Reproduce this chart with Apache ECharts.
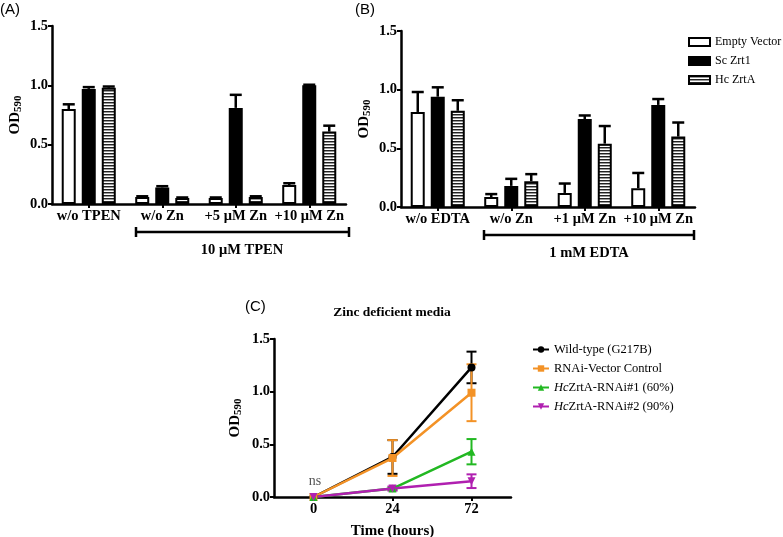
<!DOCTYPE html>
<html><head><meta charset="utf-8">
<script src="https://cdn.jsdelivr.net/npm/echarts@6/dist/echarts.min.js"></script>
<style>html,body{margin:0;padding:0;background:#fff}#c{width:783px;height:537px}</style>
</head><body><div id="c"></div>
<script>
// ---- Data ----
const catsA = ['w/o TPEN', 'w/o Zn', '+5 μM Zn', '+10 μM Zn'];
const evA = [0.80, 0.06, 0.05, 0.16];
const evAErr = [0.04, 0.005, 0.005, 0.015];
const scA = [0.97, 0.14, 0.81, 1.00];
const scAErr = [0.015, 0.01, 0.11, 0.005];
const hcA = [0.98, 0.05, 0.06, 0.61];
const hcAErr = [0.01, 0.005, 0.005, 0.05];

const catsB = ['w/o EDTA', 'w/o Zn', '+1 μM Zn', '+10 μM Zn'];
const evB = [0.81, 0.085, 0.12, 0.16];
const evBErr = [0.17, 0.025, 0.08, 0.13];
const scB = [0.94, 0.18, 0.75, 0.87];
const scBErr = [0.08, 0.06, 0.03, 0.05];
const hcB = [0.82, 0.22, 0.54, 0.60];
const hcBErr = [0.09, 0.06, 0.15, 0.12];

const timeCats = ['0', '24', '72'];
const wt = [0.0, 0.38, 1.23];
const wtErr = [0, 0.16, 0.15];
const vec = [0.0, 0.37, 0.99];
const vecErr = [0, 0.17, 0.27];
const ri1 = [0.0, 0.08, 0.43];
const ri1Err = [0, 0.01, 0.12];
const ri2 = [0.0, 0.08, 0.15];
const ri2Err = [0, 0.02, 0.065];

// ---- Styles ----
const SERIF = '"Liberation Serif","Times New Roman",serif';
const stripe = document.createElement('canvas');
stripe.width = 4; stripe.height = 3;
(function(){const c = stripe.getContext('2d');
  c.fillStyle = '#fff'; c.fillRect(0,0,4,3);
  c.fillStyle = '#222'; c.fillRect(0,0,4,1);
  c.fillStyle = '#999'; c.fillRect(0,1,4,1);})();
const hatch = {image: stripe, repeat: 'repeat'};

const chart = echarts.init(document.getElementById('c'));

function yAxisCfg(grid){
  return {
    type: 'value', gridIndex: grid, min: 0, max: 1.5, interval: 0.5,
    splitLine: {show: false},
    axisLine: {show: true, lineStyle: {color: '#000', width: 2.5}},
    axisTick: {show: true, length: 4, lineStyle: {color: '#000', width: 2}},
    axisLabel: {formatter: v => v.toFixed(1), color: '#000', fontFamily: SERIF, fontWeight: 'bold', fontSize: 14.5, margin: 4},
    name: '{a|OD}{b|590}', nameLocation: 'middle', nameRotate: 90, nameGap: 28,
    nameTextStyle: {rich: {
      a: {fontFamily: SERIF, fontWeight: 'bold', fontSize: 15, color: '#000'},
      b: {fontFamily: SERIF, fontWeight: 'bold', fontSize: 11, color: '#000', verticalAlign: 'bottom', padding: [6,0,0,0]}
    }}
  };
}
function xAxisCfg(grid, cats, extra){
  return Object.assign({
    type: 'category', gridIndex: grid, data: cats,
    axisLine: {show: true, lineStyle: {color: '#000', width: 2.5}},
    axisTick: {show: true, alignWithLabel: true, length: 4, lineStyle: {color: '#000', width: 2}},
    axisLabel: {interval: 0, color: '#000', fontFamily: SERIF, fontWeight: 'bold', fontSize: 14.5, margin: 5}
  }, extra || {});
}

function barErr(grid, vals, errs, off){
  return {
    type: 'custom', xAxisIndex: grid, yAxisIndex: grid, z: 5,
    data: vals.map((v, i) => [i, v, errs[i]]),
    encode: {x: 0, y: 1},
    renderItem: function(params, api){
      const i = api.value(0), v = api.value(1), e = api.value(2);
      const p0 = api.coord([i, v]), p1 = api.coord([i, v + e]);
      const x = p0[0] + off;
      const st = {stroke: '#000', lineWidth: 2.5};
      return {type: 'group', children: [
        {type: 'line', shape: {x1: x, y1: p0[1], x2: x, y2: p1[1]}, style: st},
        {type: 'line', shape: {x1: x - 6, y1: p1[1], x2: x + 6, y2: p1[1]}, style: st}
      ]};
    }
  };
}
function bar(grid, name, vals, color){
  return {
    type: 'bar', name: name, xAxisIndex: grid, yAxisIndex: grid,
    data: vals, barWidth: 14, barGap: '43%',
    itemStyle: {color: color, borderColor: '#000', borderWidth: 2}
  };
}
function lineErr(vals, errs, color){
  return {
    type: 'custom', xAxisIndex: 2, yAxisIndex: 2, z: 3,
    data: vals.map((v, i) => [i, v, errs[i]]),
    encode: {x: 0, y: 1},
    renderItem: function(params, api){
      const i = api.value(0), v = api.value(1), e = api.value(2);
      if (!e) return null;
      const pt = api.coord([i, v + e]), pb = api.coord([i, v - e]);
      const x = pt[0];
      const st = {stroke: color, lineWidth: 2};
      return {type: 'group', children: [
        {type: 'line', shape: {x1: x, y1: pt[1], x2: x, y2: pb[1]}, style: st},
        {type: 'line', shape: {x1: x - 5, y1: pt[1], x2: x + 5, y2: pt[1]}, style: st},
        {type: 'line', shape: {x1: x - 5, y1: pb[1], x2: x + 5, y2: pb[1]}, style: st}
      ]};
    }
  };
}
function line(name, vals, color, symbol, rot){
  return {
    type: 'line', name: name, xAxisIndex: 2, yAxisIndex: 2, data: vals,
    symbol: symbol, symbolSize: 8, symbolRotate: rot || 0, z: 4,
    lineStyle: {color: color, width: 2.5}, itemStyle: {color: color}
  };
}

const C_BLACK = '#000', C_ORANGE = '#F39226', C_GREEN = '#22B822', C_PURPLE = '#B020B0';

chart.setOption({
  animation: false,
  grid: [
    {left: 52, top: 26, width: 294, height: 178, outerBoundsMode: 'none'},
    {left: 401, top: 31, width: 294, height: 176, outerBoundsMode: 'none'},
    {left: 274, top: 339, width: 237, height: 158, outerBoundsMode: 'none'}
  ],
  xAxis: [
    xAxisCfg(0, catsA),
    xAxisCfg(1, catsB),
    xAxisCfg(2, timeCats, {name: 'Time (hours)', nameLocation: 'middle', nameGap: 27,
      nameTextStyle: {fontFamily: SERIF, fontWeight: 'bold', fontSize: 15, color: '#000'}})
  ],
  yAxis: [yAxisCfg(0), yAxisCfg(1), Object.assign(yAxisCfg(2), {nameGap: 30})],
  legend: [
    {data: ['Empty Vector', 'Sc Zrt1', 'Hc ZrtA'], orient: 'vertical', left: 683, top: 31,
     icon: 'rect', itemWidth: 21, itemHeight: 8, itemGap: 7, selectedMode: false,
     textStyle: {fontFamily: SERIF, fontSize: 12, color: '#000'}},
    {data: ['Wild-type (G217B)', 'RNAi-Vector Control', 'HcZrtA-RNAi#1 (60%)', 'HcZrtA-RNAi#2 (90%)'],
     orient: 'vertical', left: 527, top: 338, itemWidth: 16, itemHeight: 8, itemGap: 6, selectedMode: false,
     formatter: n => n.startsWith('Hc') ? '{i|Hc}' + n.slice(2) : n,
     textStyle: {fontFamily: SERIF, fontSize: 12.5, color: '#000',
       rich: {i: {fontFamily: SERIF, fontSize: 12.5, fontStyle: 'italic', color: '#000'}}}}
  ],
  series: [
    bar(0, 'Empty Vector', evA, '#fff'),
    bar(0, 'Sc Zrt1', scA, '#000'),
    bar(0, 'Hc ZrtA', hcA, hatch),
    barErr(0, evA, evAErr, -20), barErr(0, scA, scAErr, 0), barErr(0, hcA, hcAErr, 20),
    bar(1, 'Empty Vector', evB, '#fff'),
    bar(1, 'Sc Zrt1', scB, '#000'),
    bar(1, 'Hc ZrtA', hcB, hatch),
    barErr(1, evB, evBErr, -20), barErr(1, scB, scBErr, 0), barErr(1, hcB, hcBErr, 20),
    lineErr(wt, wtErr, C_BLACK),
    lineErr(vec, vecErr, C_ORANGE),
    lineErr(ri1, ri1Err, C_GREEN),
    lineErr(ri2, ri2Err, C_PURPLE),
    line('Wild-type (G217B)', wt, C_BLACK, 'circle'),
    line('RNAi-Vector Control', vec, C_ORANGE, 'rect'),
    line('HcZrtA-RNAi#1 (60%)', ri1, C_GREEN, 'triangle'),
    line('HcZrtA-RNAi#2 (90%)', ri2, C_PURPLE, 'triangle', 180)
  ],
  graphic: [
    {type: 'text', left: 0, top: 2, style: {text: '(A)', font: '15px "Liberation Sans",Arial,sans-serif', fill: '#000'}},
    {type: 'text', left: 355, top: 2, style: {text: '(B)', font: '15px "Liberation Sans",Arial,sans-serif', fill: '#000'}},
    {type: 'text', left: 245, top: 299, style: {text: '(C)', font: '15px "Liberation Sans",Arial,sans-serif', fill: '#000'}},
    {type: 'text', x: 392, y: 313, style: {text: 'Zinc deficient media', font: 'bold 13.5px "Liberation Serif",serif', fill: '#000', textAlign: 'center', textVerticalAlign: 'middle'}},
    {type: 'text', x: 315, y: 481, style: {text: 'ns', font: '14px "Liberation Serif",serif', fill: '#555', textAlign: 'center', textVerticalAlign: 'middle'}},
    {type: 'group', children: [
      {type: 'line', shape: {x1: 136, y1: 232, x2: 349, y2: 232}, style: {stroke: '#000', lineWidth: 2.5}},
      {type: 'line', shape: {x1: 136, y1: 227, x2: 136, y2: 237}, style: {stroke: '#000', lineWidth: 2.5}},
      {type: 'line', shape: {x1: 349, y1: 227, x2: 349, y2: 237}, style: {stroke: '#000', lineWidth: 2.5}},
      {type: 'text', x: 242, y: 250, style: {text: '10 μM TPEN', font: 'bold 14.5px "Liberation Serif",serif', fill: '#000', textAlign: 'center', textVerticalAlign: 'middle'}}
    ]},
    {type: 'group', children: [
      {type: 'line', shape: {x1: 484, y1: 235, x2: 694, y2: 235}, style: {stroke: '#000', lineWidth: 2.5}},
      {type: 'line', shape: {x1: 484, y1: 230, x2: 484, y2: 240}, style: {stroke: '#000', lineWidth: 2.5}},
      {type: 'line', shape: {x1: 694, y1: 230, x2: 694, y2: 240}, style: {stroke: '#000', lineWidth: 2.5}},
      {type: 'text', x: 589, y: 253, style: {text: '1 mM EDTA', font: 'bold 14.5px "Liberation Serif",serif', fill: '#000', textAlign: 'center', textVerticalAlign: 'middle'}}
    ]}
  ]
});
</script></body></html>
